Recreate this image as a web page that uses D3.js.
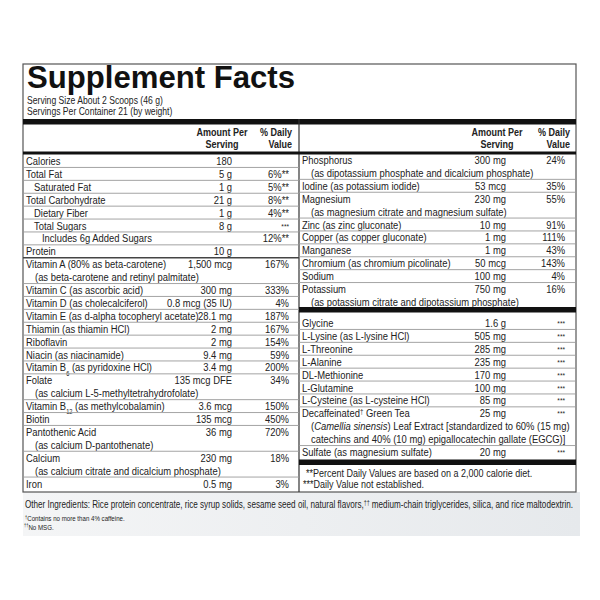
<!DOCTYPE html>
<html><head><meta charset="utf-8">
<script src="https://cdn.jsdelivr.net/npm/d3@7"></script>
<style>
body{margin:0;background:#fff}
text{font-family:"Liberation Sans",Arial,sans-serif;fill:#222}
</style></head><body>
<svg id="chart" width="600" height="600"></svg>
<script>
// left column rows: [name, amount, dv, indent, extra lines]
const leftNames = ['Calories','Total Fat','Saturated Fat','Total Carbohydrate','Dietary Fiber','Total Sugars','Includes 6g Added Sugars','Protein',
  'Vitamin A (80% as beta-carotene)','Vitamin C (as ascorbic acid)','Vitamin D (as cholecalciferol)','Vitamin E (as d-alpha tocopheryl acetate)',
  'Thiamin (as thiamin HCl)','Riboflavin','Niacin (as niacinamide)','Vitamin B|6| (as pyridoxine HCl)','Folate','Vitamin B|12| (as methylcobalamin)',
  'Biotin','Pantothenic Acid','Calcium','Iron'];
const leftAmounts = ['180','5 g','1 g','21 g','1 g','8 g','','10 g','1,500 mcg','300 mg','0.8 mcg (35 IU)','28.1 mg','2 mg','2 mg','9.4 mg','3.4 mg',
  '135 mcg DFE','3.6 mcg','135 mcg','36 mg','230 mg','0.5 mg'];
const leftDV = ['','6%**','5%**','8%**','4%**','***','12%**','','167%','333%','4%','187%','167%','154%','59%','200%','34%','150%','450%','720%','18%','3%'];
const leftIndent = [0,0,1,0,1,1,2,0,0,0,0,0,0,0,0,0,0,0,0,0,0,0];
const leftSub = {8:['(as beta-carotene and retinyl palmitate)'],16:['(as calcium L-5-methyltetrahydrofolate)'],
  19:['(as calcium D-pantothenate)'],20:['(as calcium citrate and dicalcium phosphate)']};

const mineralNames = ['Phosphorus','Iodine (as potassium iodide)','Magnesium','Zinc (as zinc gluconate)','Copper (as copper gluconate)',
  'Manganese','Chromium (as chromium picolinate)','Sodium','Potassium'];
const mineralAmounts = ['300 mg','53 mcg','230 mg','10 mg','1 mg','1 mg','50 mcg','100 mg','750 mg'];
const mineralDV = ['24%','35%','55%','91%','111%','43%','143%','4%','16%'];
const mineralSub = {0:['(as dipotassium phosphate and dicalcium phosphate)'],2:['(as magnesium citrate and magnesium sulfate)'],
  8:['(as potassium citrate and dipotassium phosphate)']};

const otherNames = ['Glycine','L-Lysine (as L-lysine HCl)','L-Threonine','L-Alanine','DL-Methionine','L-Glutamine','L-Cysteine (as L-cysteine HCl)',
  'Decaffeinated^†^ Green Tea','Sulfate (as magnesium sulfate)'];
const otherAmounts = ['1.6 g','505 mg','285 mg','235 mg','170 mg','100 mg','85 mg','25 mg','20 mg'];
const otherDV = ['***','***','***','***','***','***','***','***','***'];
const otherSub = {7:['(_Camellia sinensis_) Leaf Extract [standardized to 60% (15 mg)','catechins and 40% (10 mg) epigallocatechin gallate (EGCG)]']};

const footnotes = ['**Percent Daily Values are based on a 2,000 calorie diet.','***Daily Value not established.'];
const otherIngredients = 'Other Ingredients: Rice protein concentrate, rice syrup solids, sesame seed oil, natural flavors,^††^ medium-chain triglycerides, silica, and rice maltodextrin.';
const smallNotes = ['^†^Contains no more than 4% caffeine.','^††^No MSG.'];

const svg = d3.select('#chart');
const L = 23, R = 576, MID = 299, TOP = 64, BOT = 492, LH = 12.9, SQ = 0.82;

const bg = svg.append('defs').append('linearGradient').attr('id','bg').attr('x1',0).attr('x2',1);
bg.append('stop').attr('offset',0).attr('stop-color','#f4f5f6');
bg.append('stop').attr('offset',1).attr('stop-color','#e6e9ec');
svg.append('rect').attr('x',L).attr('y',BOT).attr('width',R-L+4).attr('height',44).attr('fill','url(#bg)');
svg.append('rect').attr('x',L).attr('y',TOP).attr('width',R-L).attr('height',BOT-TOP).attr('fill','#fff').attr('stroke','#555').attr('stroke-width',1.2);

// condensed text: horizontally squeezed to mimic a narrow face
const txt = (g, x, y, size, anchor) => g.append('text')
  .attr('transform', `translate(${x},${y}) scale(${SQ},1)`)
  .attr('font-size', size).attr('text-anchor', anchor || 'start');

// rich text: |sub|, ^sup^, _italic_
const rich = (sel, str) => {
  str.split(/(\|[^|]+\||\^[^^]+\^|_[^_]+_)/).filter(s => s).forEach(s => {
    const ts = sel.append('tspan');
    if (s[0] === '|') ts.text(s.slice(1,-1)).attr('font-size','0.6em').attr('baseline-shift','sub');
    else if (s[0] === '^') ts.text(s.slice(1,-1)).attr('font-size','0.65em').attr('baseline-shift','super');
    else if (s[0] === '_') ts.text(s.slice(1,-1)).attr('font-style','italic');
    else ts.text(s);
  });
  return sel;
};

svg.append('text').attr('x',27).attr('y',88).attr('font-size',31).attr('font-weight',900)
  .attr('textLength',268).attr('lengthAdjust','spacingAndGlyphs').style('fill','#111').text('Supplement Facts');
txt(svg, 27, 104, 10.5).text('Serving Size About 2 Scoops (46 g)');
txt(svg, 27, 114.5, 10.5).text('Servings Per Container 21 (by weight)');

const bar = (x1, x2, y, h) => svg.append('rect').attr('x',x1).attr('y',y).attr('width',x2-x1).attr('height',h).attr('fill','#111');
const rule = (x1, x2, y, c, w) => svg.append('line').attr('x1',x1).attr('x2',x2).attr('y1',y).attr('y2',y).attr('stroke',c).attr('stroke-width',w);
bar(L, R, 119, 5.5);
svg.append('line').attr('x1',MID).attr('x2',MID).attr('y1',119).attr('y2',BOT).attr('stroke','#333').attr('stroke-width',1.2);

const header = (amtX, dvX) => {
  [['Amount Per',136],['Serving',148]].forEach(([t,y]) => txt(svg, amtX, y, 11, 'middle').attr('font-weight','bold').text(t));
  [['% Daily',136],['Value',148]].forEach(([t,y]) => txt(svg, dvX, y, 11, 'end').attr('font-weight','bold').text(t));
};
header(222, 292);
header(497, 570);
bar(L, MID, 151.5, 3);
bar(MID, R, 151.5, 3);

// draws a block of rows, returns next line index
const drawRows = (g, yScale, x0, x1, amtX, dvX, names, amounts, dvs, indents, subs, sepAfter) => {
  let line = 0;
  names.forEach((n, i) => {
    const y = yScale(line) + 4;
    rich(txt(g, x0 + 3 + (indents ? indents[i] * 8 : 0), y, 11.5), n);
    txt(g, amtX, y, 11.5, 'end').text(amounts[i]);
    const stars = !dvs[i].includes('%');
    txt(g, dvX, y - (stars ? 1 : 0), stars ? 8 : 11.5, 'end').text(dvs[i]);
    (subs[i] || []).forEach(s => { line++; rich(txt(g, x0 + 12, yScale(line) + 4, 11.5), s); });
    line++;
    if (i < names.length - 1) rule(x0, x1, yScale(line - 0.5), i === sepAfter ? '#444' : '#9a9a9a', i === sepAfter ? 1.4 : 0.9);
  });
  return line;
};

const yLeft = d3.scaleLinear().domain([0,1]).range([161, 161+LH]);
drawRows(svg.append('g'), yLeft, L, MID, 232, 289, leftNames, leftAmounts, leftDV, leftIndent, leftSub, 7);

const yMin = d3.scaleLinear().domain([0,1]).range([160, 160+LH]);
drawRows(svg.append('g'), yMin, MID, R, 506, 565, mineralNames, mineralAmounts, mineralDV, null, mineralSub, -1);
bar(MID, R, 307, 5.5);

const yOther = d3.scaleLinear().domain([0,1]).range([323, 323+LH]);
drawRows(svg.append('g'), yOther, MID, R, 506, 565, otherNames, otherAmounts, otherDV, null, otherSub, -1);
bar(MID, R, 459.5, 5.5);

footnotes.forEach((f, i) => txt(svg, i ? 303 : 306, 477 + i*11, 11).text(f));

rich(svg.append('text').attr('x',25).attr('y',508).attr('font-size',10.5)
  .attr('textLength',548).attr('lengthAdjust','spacingAndGlyphs'), otherIngredients);
smallNotes.forEach((s, i) => rich(txt(svg, 24 + (i ? 0 : 1), 521 + i*8.5, 7.5), s));
</script></body></html>
